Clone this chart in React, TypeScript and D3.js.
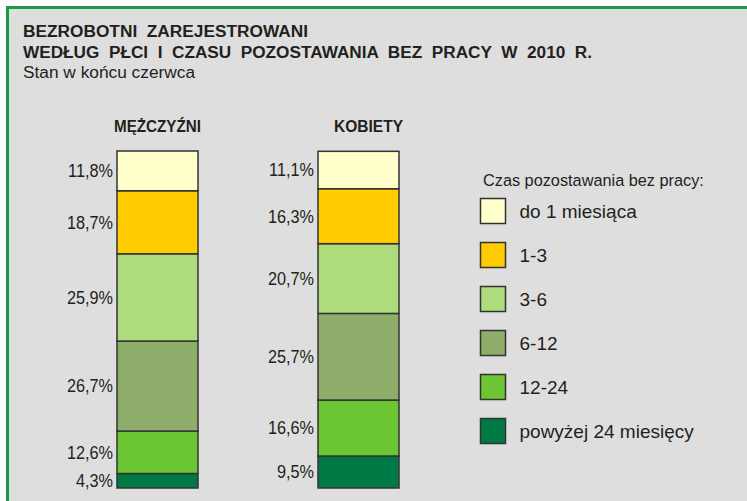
import React from "react";
import * as d3 from "d3";

const categories = ["do 1 miesiąca", "1-3", "3-6", "6-12", "12-24", "powyżej 24 miesięcy"];
const groups = ["MĘŻCZYŹNI", "KOBIETY"];
const menValues = [11.8, 18.7, 25.9, 26.7, 12.6, 4.3];
const womenValues = [11.1, 16.3, 20.7, 25.7, 16.6, 9.5];
const colors = ["#FFFFCC", "#FFCC00", "#AEDC7C", "#8FAD6A", "#6CC533", "#007A45"];
const titleLines = [
  "BEZROBOTNI  ZAREJESTROWANI",
  "WEDŁUG  PŁCI  I  CZASU  POZOSTAWANIA  BEZ  PRACY  W  2010  R.",
];
const subtitle = "Stan w końcu czerwca";
const legendTitle = "Czas pozostawania bez pracy:";

const fmt = (v: number) => v.toFixed(1).replace(".", ",") + "%";

export default function App() {
  const W = 747, H = 501;
  const textColor = "#231F20";
  const font = "'Liberation Sans', Arial, sans-serif";

  const rows = groups.map((g, i) => {
    const vals = i === 0 ? menValues : womenValues;
    const o: any = { group: g };
    categories.forEach((c, j) => (o[c] = vals[j]));
    return o;
  });
  const keysBottomUp = [...categories].reverse();
  const stack = d3.stack<any>().keys(keysBottomUp)(rows);

  const x = d3.scaleBand<string>().domain(groups).range([117, 399]).paddingInner(120 / 201).paddingOuter(0);
  const y = d3.scaleLinear().domain([0, 100]).range([488, 151]);
  const labelDx = [0, 10];

  const legendY = d3.scaleBand<string>().domain(categories).range([198, 198 + 44 * 6]);

  return (
    <svg width={W} height={H} style={{ position: "absolute", left: 0, top: 0, background: "#fff" }} fontFamily={font}>
      <rect x={7.5} y={7.5} width={900} height={700} fill="#DEDEDE" stroke="#1A9A4A" strokeWidth={3} />
      <text x={23} y={37} fontSize={16} fontWeight="bold" fill={textColor} textLength={285} lengthAdjust="spacingAndGlyphs" style={{ whiteSpace: "pre" }}>
        {titleLines[0]}
      </text>
      <text x={23} y={58} fontSize={16} fontWeight="bold" fill={textColor} textLength={569} lengthAdjust="spacingAndGlyphs" style={{ whiteSpace: "pre" }}>
        {titleLines[1]}
      </text>
      <text x={23} y={77.5} fontSize={16} fill={textColor} textLength={172} lengthAdjust="spacingAndGlyphs">
        {subtitle}
      </text>

      {groups.map((g, i) => (
        <text key={g} x={(x(g) as number) + x.bandwidth() / 2 + labelDx[i]} y={131.5} fontSize={16.5} fontWeight="bold" textAnchor="middle" fill={textColor} textLength={i === 0 ? 87 : 69} lengthAdjust="spacingAndGlyphs">
          {g}
        </text>
      ))}

      {stack.map((layer) => {
        const ci = categories.indexOf(layer.key);
        return (
          <g key={layer.key}>
            {layer.map((d, gi) => {
              const g = groups[gi];
              const x0 = x(g) as number;
              const yTop = y(d[1]);
              const yBot = y(d[0]);
              const v = d[1] - d[0];
              return (
                <g key={g}>
                  <rect x={x0} y={yTop} width={x.bandwidth()} height={yBot - yTop} fill={colors[ci]} stroke="#333" strokeWidth={1.5} />
                  <text
                    transform={`translate(${x0 - 4},${(yTop + yBot) / 2 + 6.3}) scale(0.93,1)`}
                    fontSize={17.5}
                    textAnchor="end"
                    fill={textColor}
                  >
                    {fmt(v)}
                  </text>
                </g>
              );
            })}
          </g>
        );
      })}

      <text x={483} y={186} fontSize={16.3} fill={textColor}>
        {legendTitle}
      </text>
      {categories.map((c, i) => {
        const ly = legendY(c) as number;
        return (
          <g key={c}>
            <rect x={480.5} y={ly + 0.5} width={25} height={25} fill={colors[i]} stroke="#333" strokeWidth={1.5} />
            <text x={519.5} y={ly + 19.5} fontSize={19} fill={textColor}>
              {c}
            </text>
          </g>
        );
      })}
    </svg>
  );
}
